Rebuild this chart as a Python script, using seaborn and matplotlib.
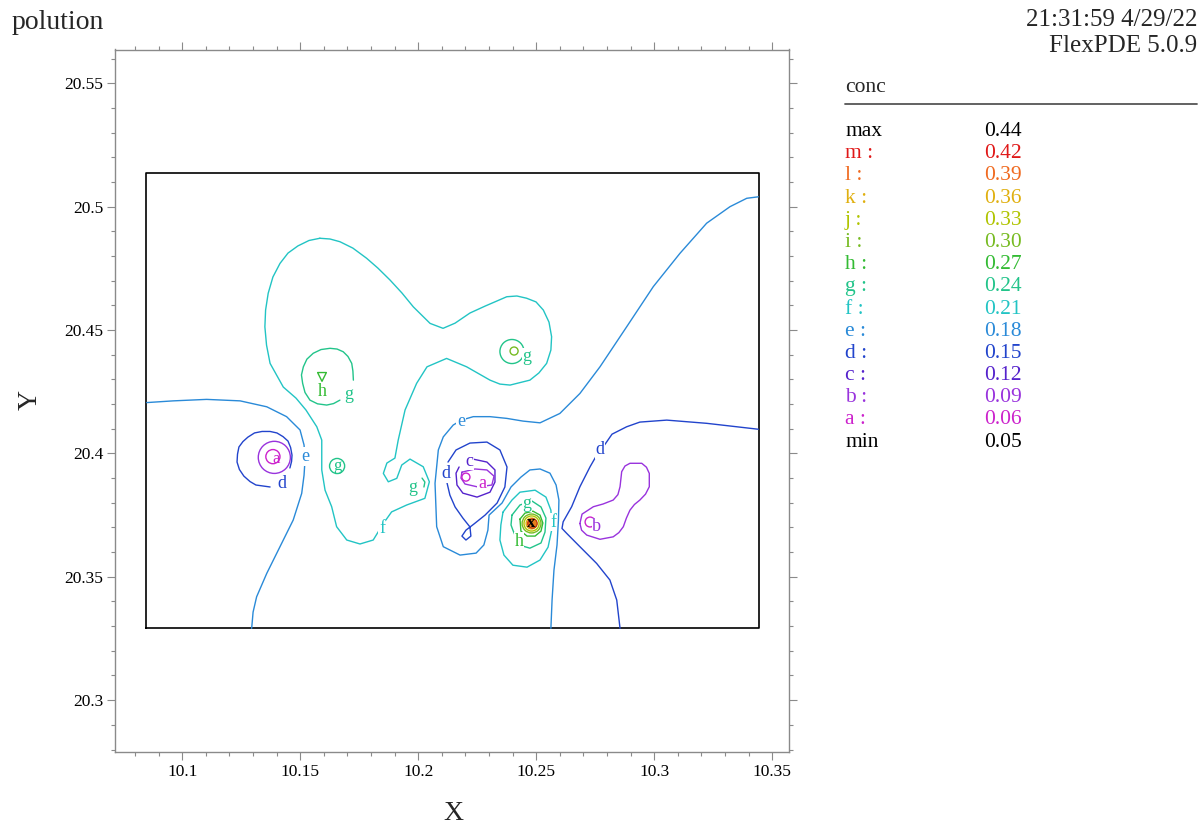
import matplotlib
matplotlib.use("Agg")
import matplotlib.pyplot as plt
from matplotlib.lines import Line2D
from matplotlib.ticker import MultipleLocator
import seaborn as sns

# contour levels of conc
level_names = ["a", "b", "c", "d", "e", "f", "g", "h", "i", "j", "k", "l", "m"]
level_values = [0.06, 0.09, 0.12, 0.15, 0.18, 0.21, 0.24, 0.27, 0.30, 0.33, 0.36, 0.39, 0.42]
conc_max = 0.44
conc_min = 0.05

level_colors = {
    "a": "#cc22cc", "b": "#9933dd", "c": "#5522cc", "d": "#2244cc",
    "e": "#2a8ad8", "f": "#22c4c4", "g": "#22c48a", "h": "#33bb33",
    "i": "#77bb22", "j": "#b0c400", "k": "#e0b010", "l": "#f06a20",
    "m": "#e01818",
}

# domain box
domain_x = [10.0845, 10.3445]
domain_y = [20.3291, 20.5135]

x_ticks = [10.1, 10.15, 10.2, 10.25, 10.3, 10.35]
x_tick_labels = ["10.1", "10.15", "10.2", "10.25", "10.3", "10.35"]
y_ticks = [20.3, 20.35, 20.4, 20.45, 20.5, 20.55]
y_tick_labels = ["20.3", "20.35", "20.4", "20.45", "20.5", "20.55"]

# traced contour lines (x, y in domain units)
big_f_x = [10.1583, 10.1626, 10.1668, 10.1723, 10.1781, 10.1829, 10.1880, 10.1931, 10.1979, 10.2050,
           10.2105, 10.2156, 10.2219, 10.2283, 10.2375, 10.2418, 10.2459, 10.2499, 10.2530, 10.2554,
           10.2565, 10.2562, 10.2544, 10.2511, 10.2473, 10.2389, 10.2346, 10.2304, 10.2205, 10.2120,
           10.2037, 10.1993, 10.1944, 10.1915, 10.1901, 10.1867, 10.1852, 10.1873, 10.1909, 10.1930,
           10.1965, 10.2021, 10.2047, 10.2028, 10.1951, 10.1887, 10.1852, 10.1809, 10.1753, 10.1697,
           10.1654, 10.1633, 10.1605, 10.1591, 10.1591, 10.1570, 10.1524, 10.1482, 10.1428, 10.1372,
           10.1357, 10.1350, 10.1353, 10.1364, 10.1384, 10.1414, 10.1448, 10.1490, 10.1537, 10.1583]
big_f_y = [20.4872, 20.4869, 20.4858, 20.4832, 20.4791, 20.4751, 20.4703, 20.4650, 20.4594, 20.4527,
           20.4507, 20.4528, 20.4569, 20.4597, 20.4635, 20.4638, 20.4629, 20.4614, 20.4581, 20.4532,
           20.4473, 20.4419, 20.4365, 20.4326, 20.4297, 20.4277, 20.4281, 20.4297, 20.4351, 20.4385,
           20.4351, 20.4284, 20.4176, 20.4054, 20.3981, 20.3961, 20.3919, 20.3885, 20.3899, 20.3953,
           20.3977, 20.3946, 20.3885, 20.3818, 20.3791, 20.3763, 20.3716, 20.3649, 20.3633, 20.3649,
           20.3703, 20.3784, 20.3851, 20.3933, 20.4054, 20.4108, 20.4176, 20.4224, 20.4269, 20.4365,
           20.4439, 20.4513, 20.4581, 20.4649, 20.4715, 20.4770, 20.4812, 20.4841, 20.4863, 20.4872]

e_left_x = [10.0849, 10.0962, 10.1103, 10.1245, 10.1358, 10.1442, 10.1499, 10.1516, 10.1520,
            10.1516, 10.1506, 10.1470, 10.1414, 10.1358, 10.1315, 10.1300, 10.1294]
e_left_y = [20.4206, 20.4213, 20.4219, 20.4213, 20.4189, 20.4149, 20.4095, 20.4034, 20.3973,
            20.3912, 20.3838, 20.3730, 20.3622, 20.3514, 20.3419, 20.3357, 20.3291]

e_mid_x = [10.3441, 10.3392, 10.3321, 10.3222, 10.3109, 10.2996, 10.2883, 10.2770, 10.2685, 10.2600,
           10.2516, 10.2444, 10.2375, 10.2304, 10.2233, 10.2183, 10.2148, 10.2106, 10.2085, 10.2071,
           10.2078, 10.2106, 10.2177, 10.2245, 10.2278, 10.2295, 10.2300, 10.2355, 10.2393, 10.2435,
           10.2473, 10.2516, 10.2558, 10.2584, 10.2596, 10.2594, 10.2588, 10.2575, 10.2567, 10.2562]
e_mid_y = [20.5040, 20.5034, 20.5000, 20.4933, 20.4811, 20.4676, 20.4513, 20.4351, 20.4243, 20.4162,
           20.4124, 20.4131, 20.4142, 20.4149, 20.4149, 20.4135, 20.4115, 20.4067, 20.4014, 20.3879,
           20.3703, 20.3622, 20.3588, 20.3596, 20.3629, 20.3689, 20.3750, 20.3799, 20.3864, 20.3904,
           20.3933, 20.3937, 20.3920, 20.3872, 20.3811, 20.3730, 20.3629, 20.3527, 20.3406, 20.3291]

f_hot_x = [10.2359, 10.2397, 10.2431, 10.2495, 10.2541, 10.2562, 10.2567, 10.2550, 10.2516, 10.2461,
           10.2401, 10.2363, 10.2346, 10.2350, 10.2359]
f_hot_y = [20.3762, 20.3811, 20.3843, 20.3851, 20.3823, 20.3770, 20.3697, 20.3620, 20.3568, 20.3539,
           20.3547, 20.3588, 20.3649, 20.3710, 20.3762]

g_hot_x = [10.2397, 10.2431, 10.2482, 10.2520, 10.2541, 10.2537, 10.2520, 10.2473, 10.2427, 10.2401,
           10.2393, 10.2397]
g_hot_y = [20.3750, 20.3791, 20.3807, 20.3783, 20.3738, 20.3681, 20.3637, 20.3616, 20.3629, 20.3689,
           20.3710, 20.3750]

h_hot_x = [10.2431, 10.2452, 10.2486, 10.2516, 10.2528, 10.2520, 10.2495, 10.2461, 10.2435, 10.2431]
h_hot_y = [20.3734, 20.3758, 20.3766, 20.3750, 20.3718, 20.3685, 20.3665, 20.3665, 20.3685, 20.3734]

d_c_x = [10.2126, 10.2160, 10.2219, 10.2291, 10.2346, 10.2376, 10.2367, 10.2334, 10.2283, 10.2236,
         10.2202, 10.2185, 10.2202, 10.2223, 10.2219, 10.2189, 10.2156, 10.2134, 10.2122]
d_c_y = [20.3965, 20.4014, 20.4042, 20.4046, 20.4014, 20.3945, 20.3864, 20.3799, 20.3750, 20.3714,
         20.3689, 20.3665, 20.3649, 20.3665, 20.3702, 20.3738, 20.3783, 20.3831, 20.3880]

c_c_x = [10.2232, 10.2291, 10.2325, 10.2325, 10.2304, 10.2249, 10.2189, 10.2164, 10.2160, 10.2173]
c_c_y = [20.3977, 20.3965, 20.3933, 20.3884, 20.3843, 20.3823, 20.3839, 20.3872, 20.3920, 20.3945]

b_c_x = [10.2185, 10.2240, 10.2291, 10.2321, 10.2312, 10.2253, 10.2198, 10.2181, 10.2185]
b_c_y = [20.3924, 20.3937, 20.3933, 20.3908, 20.3872, 20.3864, 20.3876, 20.3900, 20.3924]

d_left_x = [10.1372, 10.1312, 10.1287, 10.1261, 10.1242, 10.1232, 10.1234, 10.1240, 10.1257, 10.1278,
            10.1306, 10.1338, 10.1372, 10.1401, 10.1427, 10.1448, 10.1459, 10.1465, 10.1463, 10.1456]
d_left_y = [20.3864, 20.3872, 20.3886, 20.3908, 20.3935, 20.3965, 20.3997, 20.4026, 20.4048, 20.4066,
            20.4083, 20.4089, 20.4089, 20.4083, 20.4068, 20.4050, 20.4024, 20.3993, 20.3967, 20.3941]

g_up_x = [10.1725, 10.1723, 10.1718, 10.1702, 10.1682, 10.1656, 10.1626, 10.1588, 10.1555, 10.1528,
          10.1513, 10.1505, 10.1510, 10.1520, 10.1541, 10.1573, 10.1612, 10.1641, 10.1668]
g_up_y = [20.4297, 20.4334, 20.4365, 20.4393, 20.4412, 20.4423, 20.4426, 20.4421, 20.4406, 20.4382,
          20.4351, 20.4318, 20.4284, 20.4247, 20.4216, 20.4201, 20.4196, 20.4202, 20.4216]

g_arc_x = [10.2016, 10.2028, 10.2024]
g_arc_y = [20.3900, 20.3884, 20.3864]

b_right_x = [10.2685, 10.2692, 10.2714, 10.2770, 10.2826, 10.2850, 10.2869, 10.2882, 10.2897, 10.2916,
             10.2939, 10.2963, 10.2979, 10.2979, 10.2967, 10.2947, 10.2897, 10.2876, 10.2862, 10.2855,
             10.2846, 10.2826, 10.2783, 10.2742, 10.2694, 10.2685]
b_right_y = [20.3716, 20.3689, 20.3669, 20.3652, 20.3662, 20.3679, 20.3703, 20.3738, 20.3770, 20.3793,
             20.3811, 20.3835, 20.3865, 20.3919, 20.3944, 20.3960, 20.3960, 20.3949, 20.3926, 20.3865,
             20.3833, 20.3811, 20.3795, 20.3784, 20.3754, 20.3716]

d_right_x = [10.3441, 10.3222, 10.3053, 10.2939, 10.2883, 10.2821, 10.2795, 10.2749, 10.2728, 10.2685,
             10.2650, 10.2614, 10.2609, 10.2629, 10.2685, 10.2756, 10.2812, 10.2841, 10.2855]
d_right_y = [20.4098, 20.4122, 20.4135, 20.4127, 20.4108, 20.4078, 20.4042, 20.3981, 20.3946, 20.3865,
             20.3784, 20.3723, 20.3696, 20.3676, 20.3622, 20.3554, 20.3487, 20.3406, 20.3291]

contours = [
    ("f", big_f_x, big_f_y), ("e", e_left_x, e_left_y), ("e", e_mid_x, e_mid_y),
    ("f", f_hot_x, f_hot_y), ("g", g_hot_x, g_hot_y), ("h", h_hot_x, h_hot_y),
    ("d", d_c_x, d_c_y), ("c", c_c_x, c_c_y), ("b", b_c_x, b_c_y),
    ("d", d_left_x, d_left_y), ("g", g_up_x, g_up_y), ("g", g_arc_x, g_arc_y),
    ("b", b_right_x, b_right_y), ("d", d_right_x, d_right_y),
]

# tiny closed contours (centre and radius in x units)
ring_x = [10.1390, 10.1384, 10.2202, 10.2397, 10.2406, 10.1656, 10.2728,
          10.2480, 10.2480, 10.2480, 10.2480, 10.2480]
ring_y = [20.3984, 20.3987, 20.3904, 20.4413, 20.4415, 20.3949, 20.3722,
          20.3716, 20.3716, 20.3716, 20.3716, 20.3716]
ring_r = [0.0068, 0.0030, 0.0017, 0.0051, 0.0017, 0.0032, 0.0021,
          0.0040, 0.0032, 0.0023, 0.0017, 0.0011]
ring_level = ["b", "a", "a", "g", "i", "g", "a", "i", "j", "k", "l", "m"]

peak_x, peak_y = 10.2480, 20.3716
tri_x, tri_y = 10.1592, 20.4310

# level labels sitting on the lines
lab_x = [10.1520, 10.2181, 10.1422, 10.2117, 10.2770, 10.2217, 10.1846, 10.2571,
         10.1706, 10.1592, 10.2461, 10.1978, 10.2461, 10.2427, 10.2757, 10.2270]
lab_y = [20.3989, 20.4131, 20.3880, 20.3920, 20.4014, 20.3969, 20.3697, 20.3722,
         20.4237, 20.4249, 20.4391, 20.3860, 20.3799, 20.3645, 20.3702, 20.3880]
lab_text = ["e", "e", "d", "d", "d", "c", "f", "f", "g", "h", "g", "g", "g", "h", "b", "a"]
# labels inside small rings
in_lab_x = [10.1656, 10.1397]
in_lab_y = [20.3949, 20.3977]
in_lab_text = ["g", "a"]

sns.set_theme(style="white")
plt.rcParams["font.family"] = ["Liberation Serif", "DejaVu Serif"]
plt.rcParams["lines.solid_joinstyle"] = "round"

fig = plt.figure(figsize=(12.02, 8.25), dpi=100)
ax = fig.add_axes([0.0959, 0.0888, 0.5607, 0.8512])
xlim = (10.0716, 10.3572)
ylim = (20.2791, 20.5637)

# domain outline
bx = [domain_x[0], domain_x[1], domain_x[1], domain_x[0], domain_x[0]]
by = [domain_y[0], domain_y[0], domain_y[1], domain_y[1], domain_y[0]]
sns.lineplot(x=bx, y=by, sort=False, estimator=None, color="black", lw=1.2, ax=ax)

for lev, xs, ys in contours:
    sns.lineplot(x=xs, y=ys, sort=False, estimator=None, color=level_colors[lev], lw=1.0, ax=ax)

# marker sizes from radius in data units
ppu = 0.5607 * 1202 / (xlim[1] - xlim[0])
for x, y, r, lev in zip(ring_x, ring_y, ring_r, ring_level):
    d_pt = 2 * r * ppu * 72 / 100
    ax.scatter([x], [y], s=d_pt ** 2, marker="o", facecolors="none",
               edgecolors=level_colors[lev], linewidths=1.0, zorder=3)

ax.scatter([tri_x], [tri_y], s=40, marker="v", facecolors="none",
           edgecolors=level_colors["h"], linewidths=1.0, zorder=3)
ax.scatter([peak_x], [peak_y], s=45, marker="o", color="#e8801c",
           edgecolors="#c03010", linewidths=0.8, zorder=4)
ax.text(peak_x, peak_y, "x", fontsize=12, fontweight="bold", color="black",
        ha="center", va="center", zorder=5)

for x, y, t in zip(lab_x, lab_y, lab_text):
    ax.text(x, y, t, fontsize=13, color=level_colors[t], ha="center", va="center", zorder=5,
            bbox=dict(boxstyle="square,pad=0.05", fc="white", ec="none"))
for x, y, t in zip(in_lab_x, in_lab_y, in_lab_text):
    ax.text(x, y, t, fontsize=12, color=level_colors[t], ha="center", va="center", zorder=5)

ax.set_xlim(*xlim)
ax.set_ylim(*ylim)
ax.set_xticks(x_ticks)
ax.set_xticklabels(x_tick_labels)
ax.set_yticks(y_ticks)
ax.set_yticklabels(y_tick_labels)
ax.xaxis.set_minor_locator(MultipleLocator(0.01))
ax.yaxis.set_minor_locator(MultipleLocator(0.01))
ax.tick_params(which="both", direction="out", top=True, right=True, bottom=True, left=True,
               labeltop=False, labelright=False, color="#8a8a8a", width=0.8,
               labelcolor="black", labelsize=12.5, pad=3)
ax.tick_params(which="major", length=5.5)
ax.tick_params(which="minor", length=3)
for s in ax.spines.values():
    s.set_color("#8a8a8a")
    s.set_linewidth(1.0)
ax.set_xlabel("")
ax.set_ylabel("")

# header texts
fig.text(12 / 1202, 1 - 29 / 825, "polution", fontsize=20, ha="left", va="baseline")
fig.text(1197 / 1202, 1 - 26 / 825, "21:31:59 4/29/22", fontsize=18, ha="right", va="baseline")
fig.text(1197 / 1202, 1 - 52 / 825, "FlexPDE 5.0.9", fontsize=18, ha="right", va="baseline")
fig.text(453 / 1202, 1 - 820 / 825, "X", fontsize=20, ha="center", va="baseline")
fig.text(30 / 1202, 1 - 400 / 825, "Y", fontsize=20, ha="center", va="center", rotation=90)

# level table
fig.text(845 / 1202, 1 - 91.7 / 825, "conc", fontsize=15.5, ha="left", va="baseline")
fig.add_artist(Line2D([845 / 1202, 1197 / 1202], [1 - 104 / 825, 1 - 104 / 825],
                      color="#555555", lw=1.3))
row_names = ["max"] + [n + " :" for n in level_names[::-1]] + ["min"]
row_vals = [conc_max] + level_values[::-1] + [conc_min]
row_cols = ["black"] + [level_colors[n] for n in level_names[::-1]] + ["black"]
for i, (nm, v, c) in enumerate(zip(row_names, row_vals, row_cols)):
    yb = 1 - (136 + 22.19 * i) / 825
    fig.text(845 / 1202, yb, nm, fontsize=15.5, color=c, ha="left", va="baseline")
    fig.text(984 / 1202, yb, f"{v:.2f}", fontsize=15.5, color=c, ha="left", va="baseline")

fig.savefig("out.png", dpi=100)
